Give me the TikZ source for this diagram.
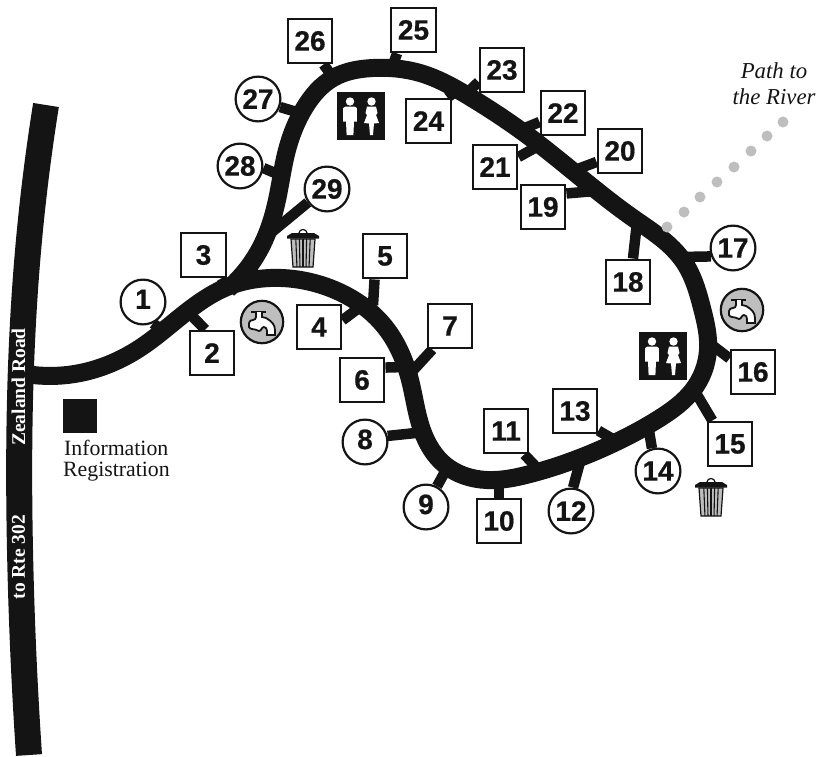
\documentclass[tikz,border=0pt]{standalone}
\usepackage{fontspec}
\usetikzlibrary{hobby}
\setmainfont{Liberation Serif}
\setsansfont{Liberation Sans}
\newfontfamily\numfont[FakeBold=0.6]{Liberation Sans Bold}
\definecolor{ink}{HTML}{141414}
\definecolor{soft}{HTML}{BEBEBE}
\pgfdeclarelayer{under}
\pgfsetlayers{under,main}
\tikzset{
 numbox/.style={draw=ink,line width=2.4pt,fill=white,minimum size=44.5pt,inner sep=0pt,font=\numfont\fontsize{28}{28}\selectfont,text=ink},
 numcirc/.style={circle,draw=ink,line width=2.2pt,fill=white,minimum size=44.8pt,inner sep=0pt,font=\numfont\fontsize{28}{28}\selectfont,text=ink},
 spur/.style={draw=ink,line width=10.5pt},
 trail/.style={draw=ink,line width=18pt},
 roadlab/.style={text=white,font=\bfseries\fontsize{19.5}{19.5}\selectfont,rotate=90,inner sep=0pt},
 riverdot/.style={circle,fill=soft,minimum size=11pt,inner sep=0pt},
 label/.style={text=ink,font=\fontsize{21.8}{24}\selectfont,inner sep=0pt},
 pics/restroom/.style={code={
   \fill[ink] (-24,-24) rectangle (24,24);
   \fill[white] (-11,-14.5) circle (4.2);
   \fill[white] (-18,-8) to[out=-90,in=180] (-15.5,-9.5) -- (-6.5,-9.5) to[out=0,in=-90] (-4.2,-8) -- (-4.2,5.5) -- (-7,5.5) -- (-7.6,19) -- (-14.4,19) -- (-15,5.5) -- (-18,5.5) -- cycle;
   \fill[white] (10.5,-14.5) circle (4.2);
   \fill[white] (6,-9.5) -- (15,-9.5) -- (16.5,-3) -- (15,-1) -- (18,7) -- (13,7.5) -- (12,19) -- (9,19) -- (8,7.5) -- (3,7) -- (6,-1) -- (4.5,-3) -- cycle;
 }},
 pics/faucet/.style={code={
   \draw[ink,line width=2.2pt,fill=soft] (0,0) circle (21.2);
   \draw[ink,line width=2pt] (-11,-10) -- (4,-10);
   \draw[ink,line width=1.8pt,fill=white] (-6,-10) -- (-6,-5) to[out=-90,in=0] (-9,-2) to[out=180,in=90] (-13,1) -- (-13,5) to[out=-60,in=180] (-10,7) to[out=20,in=180] (-3,9) to[out=0,in=180] (2,5) to[out=0,in=90] (5,9) -- (5,13) -- (13,13) -- (13,8) to[out=90,in=-30] (4,-4) -- (0,-5) -- (0,-10);
 }},
 pics/bin/.style={code={
   \draw[ink,line width=1.2pt] (-4,-15) to[out=90,in=180] (0,-18.5) to[out=0,in=90] (4,-15);
   \fill[ink] (-16,-12) -- (-11,-15) -- (11,-15) -- (16,-12) -- (16,-9.5) -- (-16,-9.5) -- cycle;
   \fill[soft,draw=ink,line width=1.2pt] (-12,-9) -- (12,-9) -- (10,19) -- (-10,19) -- cycle;
   \foreach \t in {-7.2,-3.6,0,3.6,7.2} \draw[ink,line width=1.1pt] (\t,-9) -- ({\t*0.84},19);
 }}
}
\newcommand{\boxlist}{2/{212,353},3/{203.5,255},4/{319,327},5/{385,256},6/{362,380},7/{450,326},10/{499,521},11/{506,431},13/{575,411},15/{730,444},16/{753,372},18/{628,282},19/{543,207},20/{620,151},21/{495,167},22/{563,113},23/{502,70},24/{428.5,121},25/{413.5,30},26/{310,41}}
\begin{document}
\begin{tikzpicture}[x=1pt,y=-1pt,use Hobby shortcut]
\useasboundingbox (0,0) rectangle (826,756);
% river path
\foreach \n/\p in {a/{783,122},b/{767,136},c/{751,151},d/{734,167},e/{717,182},f/{700,197},g/{684,212},h/{667,227}}
  \node[riverdot] (dot\n) at (\p) {};
\node[font=\itshape\fontsize{22.8}{26}\selectfont,text=ink,align=center,inner sep=0pt] (river) at (774,84) {Path to\\the River};
% spur ends on the trail
\foreach \n/\p in {e1/{165,332},e2/{190,314},e3/{229,292},e4/{368,301},e5/{373,305},e6/{405,367},e7/{408,376},e8/{425,432},e9/{447,468},e10/{499,483},e11/{540,471},e12/{580,462},e13/{618,442},e14/{648,425},e15/{693,388},e16/{708,342},e17/{680,257},e18/{637,222},e19/{595,191},e20/{575,170},e21/{540,145},e22/{520,130},e23/{468,92},e24/{460,88},e25/{391,70},e26/{335,80},e27/{300,113},e28/{282,176},e29/{272,232}}
  \coordinate (\n) at (\p);
% nodes
\foreach \n/\p in \boxlist
  \node[numbox] (n\n) at (\p) {\n};
\foreach \n/\p in {12/{571,511},14/{658,471},17/{733,248},27/{258,99},28/{240,166},29/{327,189}}
  \node[numcirc] (n\n) at (\p) {\n};
\foreach \n/\p in {1/{143,302},8/{365,442},9/{426,507}}
  \node[numcirc] (n\n) at (\p) {\raisebox{5.5pt}{\n}};
\begin{pgfonlayer}{under}
% road
\draw[ink,line width=26pt] (46,105) .. (29,240) .. (20,400) .. (20,550) .. (29,755);
% trail
\draw[trail] (33,375) .. (80,373) .. (140,348) .. (193,307) .. (227,287) .. (270,278) .. (330,288) .. (385,327) .. (410,380) .. (422,430) .. (445,465) .. (487,480) .. (530,474) .. (610,445) .. (660,418) .. (693,390) .. (708,350) .. (702,308) .. (684,262) .. (633,218) .. (580,177) .. (527,135) .. (470,97) .. (420,73) .. (373,68) .. (333,78) .. (305,107) .. (287,150) .. (277,200) .. (262,245) .. (228,289);
% connectors
\foreach \n/\a in {1/-65,2/106,3/-53,4/16,5/-114,6/28,7/233,8/15,9/62,10/90,11/-52,12/85,13/-40,14/105,15/127,16/150,17/201,18/78,19/30,20/205,21/23,22/201,23/207,24/51,25/235,26/-60,27/-20,28/-5,29/215}
  \draw[spur] (e\n) -- (n\n.\a);
\end{pgfonlayer}
\node[roadlab] (zr) at (18.5,387) {Zealand Road};
\node[roadlab] (rte) at (18.5,557) {to Rte 302};
% icons
\pic at (361,116) {restroom};
\pic at (663,356) {restroom};
\pic at (262,322) {faucet};
\pic at (742,310) {faucet};
\pic at (303,248) {bin};
\pic at (711,497) {bin};
% info
\fill[ink] (63,399) rectangle (97,433);
\node[label,anchor=west] (info) at (64,448) {Information};
\node[label,anchor=west] (reg) at (63,472) {Registration};
\end{tikzpicture}
\end{document}
